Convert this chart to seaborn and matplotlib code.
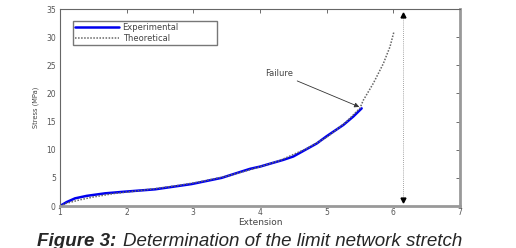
import matplotlib
matplotlib.use("Agg")
import matplotlib.pyplot as plt
import seaborn as sns
import pandas as pd

# values
exp_x = [1.0, 1.1, 1.225, 1.4, 1.675, 1.975, 2.425, 2.975, 3.425, 3.85, 4.0,
         4.35, 4.5, 4.85, 5.0, 5.25, 5.4, 5.525]
exp_y = [0.0, 0.7, 1.36, 1.8, 2.25, 2.55, 2.96, 3.9, 5.0, 6.6, 7.0,
         8.2, 8.8, 11.1, 12.4, 14.4, 15.9, 17.35]

theo_x = [1.0, 1.1, 1.3, 1.5, 1.8, 2.1, 2.5, 2.8, 3.1, 3.5, 3.9, 4.3, 4.7,
          5.0, 5.3, 5.5, 5.55, 5.7, 5.85, 5.95, 6.01]
theo_y = [0.0, 0.5, 1.1, 1.6, 2.2, 2.6, 3.2, 3.7, 4.3, 5.3, 6.6, 8.1, 10.2,
          12.2, 15.0, 17.4, 18.8, 21.8, 25.3, 28.3, 31.0]

limit_x = 6.15
limit_y = [1.0, 33.9]

failure_xy = (5.49, 17.6)
failure_text_xy = (4.07, 23.6)

x_ticks = [1, 2, 3, 4, 5, 6, 7]
y_ticks = [0, 5, 10, 15, 20, 25, 30, 35]

sns.set_style("white")
plt.rcParams["font.family"] = ["DejaVu Sans"]

fig = plt.figure(figsize=(5.16, 2.48), dpi=100)
ax = fig.add_axes([60 / 516, 1 - 206 / 248, 400 / 516, 197 / 248])

exp_df = pd.DataFrame({"x": exp_x, "y": exp_y})
theo_df = pd.DataFrame({"x": theo_x, "y": theo_y})

sns.lineplot(data=exp_df, x="x", y="y", ax=ax, color="#0000ee", lw=1.8,
             label="Experimental", sort=False)
sns.lineplot(data=theo_df, x="x", y="y", ax=ax, color="#666666", lw=1.1,
             linestyle=(0, (1, 1)), label="Theoretical", sort=False)

# limit line with arrow heads
ax.plot([limit_x, limit_x], limit_y, color="#888888", lw=0.6, linestyle=(0, (1, 1.5)))
ax.plot([limit_x], [limit_y[1]], marker="^", color="black", ms=3.5, lw=0)
ax.plot([limit_x], [limit_y[0]], marker="v", color="black", ms=3.5, lw=0)

ax.annotate("Failure", xy=failure_xy, xytext=failure_text_xy,
            fontsize=6, color="#444444", va="center", ha="left",
            arrowprops=dict(arrowstyle="-|>", color="#333333", lw=0.6,
                            mutation_scale=7, shrinkA=1, shrinkB=0))

ax.set_xlim(1, 7)
ax.set_ylim(0, 35)
ax.set_xticks(x_ticks)
ax.set_yticks(y_ticks)
ax.tick_params(direction="in", length=3, width=0.6, labelsize=5.5,
               colors="#555555", top=True, right=True)
ax.tick_params(axis="x", pad=1.5)
ax.tick_params(axis="y", pad=3)
ax.set_xlabel("Extension", fontsize=6.5, color="#444444", labelpad=1)
ax.set_ylabel("Stress (MPa)", fontsize=4.8, color="#444444", labelpad=5)

for side in ["left", "top"]:
    ax.spines[side].set_color("#666666")
    ax.spines[side].set_linewidth(0.8)
for side in ["bottom", "right"]:
    ax.spines[side].set_color("#999999")
    ax.spines[side].set_linewidth(2.0)

leg_h = 21 / 197
leg = ax.legend(loc="upper left", fontsize=6, frameon=True, fancybox=False,
                handlelength=5.3, handletextpad=0.4, borderpad=0.25,
                labelspacing=0.2, borderaxespad=0, mode="expand",
                bbox_to_anchor=(13 / 400, (206 - 21) / 197 - leg_h, 144 / 400, leg_h))
leg.get_frame().set_edgecolor("#555555")
leg.get_frame().set_linewidth(1.0)
for t in leg.get_texts():
    t.set_color("#444444")

fig.text(37 / 516, 0.01, "Figure 3:", fontsize=13.5, family="Liberation Sans",
         style="italic", weight="bold", va="baseline", ha="left")
fig.text(123 / 516, 0.01, "Determination of the limit network stretch",
         fontsize=13.5, family="Liberation Sans", style="italic",
         va="baseline", ha="left")

fig.savefig("out.png", dpi=100)
